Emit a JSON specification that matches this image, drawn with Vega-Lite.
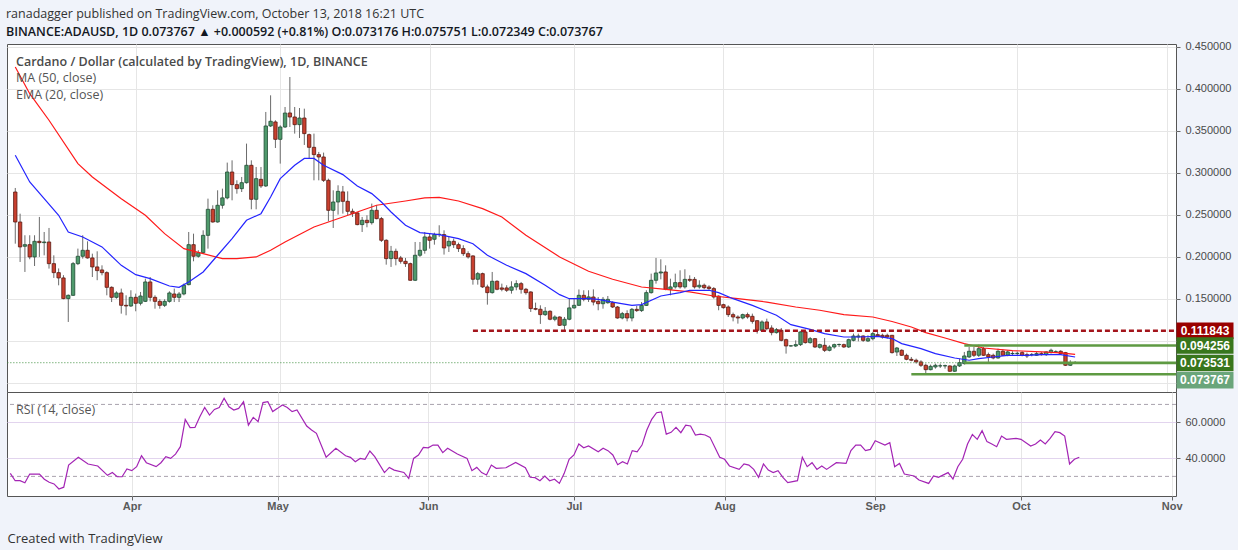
{
  "$schema": "https://vega.github.io/schema/vega-lite/v6.json",
  "background": "#f0f3fa",
  "padding": {"left": 6, "top": 8, "right": 4, "bottom": 4},
  "bounds": "flush",
  "spacing": 0,
  "title": {
    "text": "ranadagger published on TradingView.com, October 13, 2018 16:21 UTC",
    "subtitle": "BINANCE:ADAUSD, 1D 0.073767 ▲ +0.000592 (+0.81%) O:0.073176 H:0.075751 L:0.072349 C:0.073767",
    "anchor": "start",
    "offset": 2,
    "font": "Open Sans",
    "fontSize": 12.5,
    "fontWeight": "normal",
    "color": "#333333",
    "subtitleFont": "Open Sans",
    "subtitleFontSize": 12.5,
    "subtitleFontWeight": 600,
    "subtitleColor": "#131722",
    "subtitlePadding": 5
  },
  "datasets": {
    "candles": [
      {"date": "2018-03-07", "open": 0.277, "high": 0.2818, "low": 0.2155, "close": 0.2413},
      {"date": "2018-03-08", "open": 0.2413, "high": 0.2512, "low": 0.1937, "close": 0.2116},
      {"date": "2018-03-09", "open": 0.2124, "high": 0.2255, "low": 0.1818, "close": 0.2143},
      {"date": "2018-03-10", "open": 0.2143, "high": 0.2255, "low": 0.1969, "close": 0.1997},
      {"date": "2018-03-11", "open": 0.1997, "high": 0.2255, "low": 0.1889, "close": 0.2183},
      {"date": "2018-03-12", "open": 0.2183, "high": 0.2473, "low": 0.1997, "close": 0.2167},
      {"date": "2018-03-13", "open": 0.2167, "high": 0.2294, "low": 0.2016, "close": 0.2175},
      {"date": "2018-03-14", "open": 0.2175, "high": 0.2342, "low": 0.1858, "close": 0.1917},
      {"date": "2018-03-15", "open": 0.1917, "high": 0.2016, "low": 0.1747, "close": 0.181},
      {"date": "2018-03-16", "open": 0.181, "high": 0.186, "low": 0.1659, "close": 0.1747},
      {"date": "2018-03-17", "open": 0.1747, "high": 0.178, "low": 0.1493, "close": 0.1501},
      {"date": "2018-03-18", "open": 0.1501, "high": 0.155, "low": 0.1223, "close": 0.154},
      {"date": "2018-03-19", "open": 0.154, "high": 0.1937, "low": 0.1532, "close": 0.1917},
      {"date": "2018-03-20", "open": 0.1917, "high": 0.2096, "low": 0.19, "close": 0.2005},
      {"date": "2018-03-21", "open": 0.2005, "high": 0.2255, "low": 0.1977, "close": 0.2076},
      {"date": "2018-03-22", "open": 0.2076, "high": 0.2183, "low": 0.1977, "close": 0.1985},
      {"date": "2018-03-23", "open": 0.1985, "high": 0.2036, "low": 0.1758, "close": 0.1878},
      {"date": "2018-03-24", "open": 0.1878, "high": 0.2064, "low": 0.172, "close": 0.1834},
      {"date": "2018-03-25", "open": 0.1842, "high": 0.1897, "low": 0.1778, "close": 0.181},
      {"date": "2018-03-26", "open": 0.181, "high": 0.1826, "low": 0.154, "close": 0.1635},
      {"date": "2018-03-27", "open": 0.1635, "high": 0.1647, "low": 0.146, "close": 0.1516},
      {"date": "2018-03-28", "open": 0.1516, "high": 0.1588, "low": 0.15, "close": 0.1568},
      {"date": "2018-03-29", "open": 0.1568, "high": 0.162, "low": 0.1322, "close": 0.1421},
      {"date": "2018-03-30", "open": 0.1421, "high": 0.154, "low": 0.1302, "close": 0.1413},
      {"date": "2018-03-31", "open": 0.1413, "high": 0.16, "low": 0.1401, "close": 0.1516},
      {"date": "2018-04-01", "open": 0.1516, "high": 0.156, "low": 0.135, "close": 0.1445},
      {"date": "2018-04-02", "open": 0.1445, "high": 0.158, "low": 0.142, "close": 0.1532},
      {"date": "2018-04-03", "open": 0.1468, "high": 0.1739, "low": 0.146, "close": 0.1699},
      {"date": "2018-04-04", "open": 0.1699, "high": 0.1758, "low": 0.1468, "close": 0.1516},
      {"date": "2018-04-05", "open": 0.1516, "high": 0.154, "low": 0.1381, "close": 0.1468},
      {"date": "2018-04-06", "open": 0.1468, "high": 0.1493, "low": 0.1381, "close": 0.1421},
      {"date": "2018-04-07", "open": 0.1421, "high": 0.1493, "low": 0.1401, "close": 0.1468},
      {"date": "2018-04-08", "open": 0.1468, "high": 0.1588, "low": 0.1453, "close": 0.1568},
      {"date": "2018-04-09", "open": 0.1556, "high": 0.162, "low": 0.146, "close": 0.1516},
      {"date": "2018-04-10", "open": 0.1516, "high": 0.158, "low": 0.146, "close": 0.1556},
      {"date": "2018-04-11", "open": 0.1556, "high": 0.168, "low": 0.154, "close": 0.166},
      {"date": "2018-04-12", "open": 0.1667, "high": 0.2294, "low": 0.1659, "close": 0.2143},
      {"date": "2018-04-13", "open": 0.2143, "high": 0.2274, "low": 0.1945, "close": 0.2005},
      {"date": "2018-04-14", "open": 0.2005, "high": 0.2076, "low": 0.1989, "close": 0.2048},
      {"date": "2018-04-15", "open": 0.2048, "high": 0.2314, "low": 0.2036, "close": 0.2254},
      {"date": "2018-04-16", "open": 0.2254, "high": 0.2691, "low": 0.2096, "close": 0.2564},
      {"date": "2018-04-17", "open": 0.2564, "high": 0.2612, "low": 0.2405, "close": 0.2413},
      {"date": "2018-04-18", "open": 0.2413, "high": 0.279, "low": 0.2405, "close": 0.2612},
      {"date": "2018-04-19", "open": 0.2612, "high": 0.281, "low": 0.2572, "close": 0.27},
      {"date": "2018-04-20", "open": 0.27, "high": 0.312, "low": 0.2683, "close": 0.3008},
      {"date": "2018-04-21", "open": 0.3008, "high": 0.3147, "low": 0.2671, "close": 0.2858},
      {"date": "2018-04-22", "open": 0.2858, "high": 0.2909, "low": 0.275, "close": 0.281},
      {"date": "2018-04-23", "open": 0.281, "high": 0.2949, "low": 0.277, "close": 0.2881},
      {"date": "2018-04-24", "open": 0.2881, "high": 0.3346, "low": 0.287, "close": 0.3088},
      {"date": "2018-04-25", "open": 0.3088, "high": 0.3147, "low": 0.2564, "close": 0.2683},
      {"date": "2018-04-26", "open": 0.2683, "high": 0.3068, "low": 0.2564, "close": 0.2929},
      {"date": "2018-04-27", "open": 0.2921, "high": 0.3068, "low": 0.2818, "close": 0.2842},
      {"date": "2018-04-28", "open": 0.2842, "high": 0.3723, "low": 0.283, "close": 0.3556},
      {"date": "2018-04-29", "open": 0.3556, "high": 0.3921, "low": 0.3544, "close": 0.3612},
      {"date": "2018-04-30", "open": 0.3604, "high": 0.3624, "low": 0.3294, "close": 0.3397},
      {"date": "2018-05-01", "open": 0.3397, "high": 0.3564, "low": 0.3108, "close": 0.3544},
      {"date": "2018-05-02", "open": 0.3544, "high": 0.3782, "low": 0.3532, "close": 0.371},
      {"date": "2018-05-03", "open": 0.3711, "high": 0.4139, "low": 0.3544, "close": 0.3663},
      {"date": "2018-05-04", "open": 0.3663, "high": 0.3782, "low": 0.3465, "close": 0.3572},
      {"date": "2018-05-05", "open": 0.3572, "high": 0.377, "low": 0.3413, "close": 0.3651},
      {"date": "2018-05-06", "open": 0.3651, "high": 0.3762, "low": 0.333, "close": 0.3465},
      {"date": "2018-05-07", "open": 0.3453, "high": 0.3465, "low": 0.3167, "close": 0.3302},
      {"date": "2018-05-08", "open": 0.3302, "high": 0.3465, "low": 0.2909, "close": 0.3215},
      {"date": "2018-05-09", "open": 0.3215, "high": 0.3247, "low": 0.2909, "close": 0.3187},
      {"date": "2018-05-10", "open": 0.3187, "high": 0.3239, "low": 0.2889, "close": 0.2909},
      {"date": "2018-05-11", "open": 0.2909, "high": 0.2929, "low": 0.2421, "close": 0.2552},
      {"date": "2018-05-12", "open": 0.2552, "high": 0.279, "low": 0.2342, "close": 0.2651},
      {"date": "2018-05-13", "open": 0.2651, "high": 0.285, "low": 0.2501, "close": 0.2778},
      {"date": "2018-05-14", "open": 0.2771, "high": 0.2842, "low": 0.2513, "close": 0.2659},
      {"date": "2018-05-15", "open": 0.2659, "high": 0.2778, "low": 0.2493, "close": 0.254},
      {"date": "2018-05-16", "open": 0.254, "high": 0.2572, "low": 0.2473, "close": 0.2513},
      {"date": "2018-05-17", "open": 0.2521, "high": 0.2532, "low": 0.2374, "close": 0.2382},
      {"date": "2018-05-18", "open": 0.2382, "high": 0.2473, "low": 0.2294, "close": 0.2433},
      {"date": "2018-05-19", "open": 0.2433, "high": 0.2493, "low": 0.235, "close": 0.2405},
      {"date": "2018-05-20", "open": 0.2405, "high": 0.2632, "low": 0.2382, "close": 0.2552},
      {"date": "2018-05-21", "open": 0.2552, "high": 0.2612, "low": 0.2445, "close": 0.2453},
      {"date": "2018-05-22", "open": 0.2453, "high": 0.2473, "low": 0.2175, "close": 0.2195},
      {"date": "2018-05-23", "open": 0.2195, "high": 0.2207, "low": 0.1905, "close": 0.1977},
      {"date": "2018-05-24", "open": 0.1977, "high": 0.2128, "low": 0.1878, "close": 0.2064},
      {"date": "2018-05-25", "open": 0.2064, "high": 0.2096, "low": 0.1897, "close": 0.1977},
      {"date": "2018-05-26", "open": 0.1985, "high": 0.2009, "low": 0.1917, "close": 0.1945},
      {"date": "2018-05-27", "open": 0.1945, "high": 0.1985, "low": 0.1878, "close": 0.1917},
      {"date": "2018-05-28", "open": 0.1917, "high": 0.1929, "low": 0.1715, "close": 0.1719},
      {"date": "2018-05-29", "open": 0.1719, "high": 0.2175, "low": 0.171, "close": 0.2017},
      {"date": "2018-05-30", "open": 0.2017, "high": 0.2175, "low": 0.1997, "close": 0.2076},
      {"date": "2018-05-31", "open": 0.2076, "high": 0.2294, "low": 0.2036, "close": 0.2235},
      {"date": "2018-06-01", "open": 0.2235, "high": 0.2274, "low": 0.2096, "close": 0.2195},
      {"date": "2018-06-02", "open": 0.2207, "high": 0.2286, "low": 0.2143, "close": 0.2263},
      {"date": "2018-06-03", "open": 0.2263, "high": 0.2374, "low": 0.2235, "close": 0.2267},
      {"date": "2018-06-04", "open": 0.2263, "high": 0.2314, "low": 0.2025, "close": 0.2104},
      {"date": "2018-06-05", "open": 0.2128, "high": 0.2235, "low": 0.2056, "close": 0.2183},
      {"date": "2018-06-06", "open": 0.2183, "high": 0.2215, "low": 0.2104, "close": 0.2143},
      {"date": "2018-06-07", "open": 0.2143, "high": 0.2167, "low": 0.2056, "close": 0.2096},
      {"date": "2018-06-08", "open": 0.2096, "high": 0.2136, "low": 0.2009, "close": 0.2036},
      {"date": "2018-06-09", "open": 0.2036, "high": 0.2064, "low": 0.1977, "close": 0.1997},
      {"date": "2018-06-10", "open": 0.2009, "high": 0.2017, "low": 0.1667, "close": 0.1731},
      {"date": "2018-06-11", "open": 0.1731, "high": 0.1818, "low": 0.1667, "close": 0.1798},
      {"date": "2018-06-12", "open": 0.1798, "high": 0.181, "low": 0.1628, "close": 0.164},
      {"date": "2018-06-13", "open": 0.164, "high": 0.1667, "low": 0.1429, "close": 0.1572},
      {"date": "2018-06-14", "open": 0.1572, "high": 0.1818, "low": 0.156, "close": 0.1707},
      {"date": "2018-06-15", "open": 0.1707, "high": 0.1719, "low": 0.16, "close": 0.1612},
      {"date": "2018-06-16", "open": 0.1628, "high": 0.1679, "low": 0.1588, "close": 0.1612},
      {"date": "2018-06-17", "open": 0.1628, "high": 0.166, "low": 0.158, "close": 0.16},
      {"date": "2018-06-18", "open": 0.16, "high": 0.1707, "low": 0.156, "close": 0.164},
      {"date": "2018-06-19", "open": 0.164, "high": 0.1719, "low": 0.16, "close": 0.1679},
      {"date": "2018-06-20", "open": 0.1679, "high": 0.1699, "low": 0.156, "close": 0.1612},
      {"date": "2018-06-21", "open": 0.1612, "high": 0.1628, "low": 0.1548, "close": 0.1572},
      {"date": "2018-06-22", "open": 0.158, "high": 0.1588, "low": 0.1342, "close": 0.1382},
      {"date": "2018-06-23", "open": 0.1382, "high": 0.1453, "low": 0.1362, "close": 0.1374},
      {"date": "2018-06-24", "open": 0.1374, "high": 0.1421, "low": 0.12, "close": 0.131},
      {"date": "2018-06-25", "open": 0.131, "high": 0.14, "low": 0.1294, "close": 0.135},
      {"date": "2018-06-26", "open": 0.135, "high": 0.1362, "low": 0.1243, "close": 0.1255},
      {"date": "2018-06-27", "open": 0.1255, "high": 0.1302, "low": 0.1231, "close": 0.1282},
      {"date": "2018-06-28", "open": 0.1282, "high": 0.129, "low": 0.1175, "close": 0.1183},
      {"date": "2018-06-29", "open": 0.1183, "high": 0.1282, "low": 0.1124, "close": 0.1255},
      {"date": "2018-06-30", "open": 0.1255, "high": 0.15, "low": 0.1243, "close": 0.139},
      {"date": "2018-07-01", "open": 0.139, "high": 0.1508, "low": 0.1381, "close": 0.1421},
      {"date": "2018-07-02", "open": 0.1421, "high": 0.161, "low": 0.1413, "close": 0.154},
      {"date": "2018-07-03", "open": 0.154, "high": 0.16, "low": 0.1469, "close": 0.1493},
      {"date": "2018-07-04", "open": 0.1493, "high": 0.16, "low": 0.1461, "close": 0.1521},
      {"date": "2018-07-05", "open": 0.152, "high": 0.1611, "low": 0.142, "close": 0.146},
      {"date": "2018-07-06", "open": 0.1468, "high": 0.152, "low": 0.1362, "close": 0.144},
      {"date": "2018-07-07", "open": 0.144, "high": 0.152, "low": 0.1381, "close": 0.1492},
      {"date": "2018-07-08", "open": 0.1452, "high": 0.1532, "low": 0.144, "close": 0.1492},
      {"date": "2018-07-09", "open": 0.1453, "high": 0.1469, "low": 0.1389, "close": 0.1401},
      {"date": "2018-07-10", "open": 0.1401, "high": 0.1413, "low": 0.1262, "close": 0.127},
      {"date": "2018-07-11", "open": 0.127, "high": 0.1342, "low": 0.1254, "close": 0.1322},
      {"date": "2018-07-12", "open": 0.1322, "high": 0.1362, "low": 0.123, "close": 0.127},
      {"date": "2018-07-13", "open": 0.127, "high": 0.1389, "low": 0.123, "close": 0.1373},
      {"date": "2018-07-14", "open": 0.1373, "high": 0.1413, "low": 0.1342, "close": 0.1358},
      {"date": "2018-07-15", "open": 0.1358, "high": 0.146, "low": 0.1342, "close": 0.142},
      {"date": "2018-07-16", "open": 0.142, "high": 0.16, "low": 0.1413, "close": 0.1572},
      {"date": "2018-07-17", "open": 0.1572, "high": 0.1798, "low": 0.156, "close": 0.1719},
      {"date": "2018-07-18", "open": 0.1719, "high": 0.1985, "low": 0.1679, "close": 0.1806},
      {"date": "2018-07-19", "open": 0.1806, "high": 0.1969, "low": 0.173, "close": 0.1818},
      {"date": "2018-07-20", "open": 0.1818, "high": 0.1897, "low": 0.16, "close": 0.1612},
      {"date": "2018-07-21", "open": 0.1612, "high": 0.1738, "low": 0.154, "close": 0.164},
      {"date": "2018-07-22", "open": 0.164, "high": 0.1798, "low": 0.162, "close": 0.1691},
      {"date": "2018-07-23", "open": 0.1691, "high": 0.1838, "low": 0.162, "close": 0.164},
      {"date": "2018-07-24", "open": 0.164, "high": 0.185, "low": 0.162, "close": 0.173},
      {"date": "2018-07-25", "open": 0.173, "high": 0.1778, "low": 0.1699, "close": 0.1719},
      {"date": "2018-07-26", "open": 0.173, "high": 0.1758, "low": 0.162, "close": 0.164},
      {"date": "2018-07-27", "open": 0.164, "high": 0.1719, "low": 0.162, "close": 0.166},
      {"date": "2018-07-28", "open": 0.166, "high": 0.168, "low": 0.1612, "close": 0.1631},
      {"date": "2018-07-29", "open": 0.1639, "high": 0.166, "low": 0.16, "close": 0.162},
      {"date": "2018-07-30", "open": 0.162, "high": 0.1639, "low": 0.15, "close": 0.152},
      {"date": "2018-07-31", "open": 0.153, "high": 0.154, "low": 0.1362, "close": 0.142},
      {"date": "2018-08-01", "open": 0.1429, "high": 0.144, "low": 0.1381, "close": 0.1393},
      {"date": "2018-08-02", "open": 0.1401, "high": 0.142, "low": 0.1282, "close": 0.131},
      {"date": "2018-08-03", "open": 0.131, "high": 0.1334, "low": 0.123, "close": 0.1282},
      {"date": "2018-08-04", "open": 0.1282, "high": 0.1302, "low": 0.1203, "close": 0.127},
      {"date": "2018-08-05", "open": 0.127, "high": 0.1322, "low": 0.1254, "close": 0.131},
      {"date": "2018-08-06", "open": 0.131, "high": 0.1334, "low": 0.1262, "close": 0.1282},
      {"date": "2018-08-07", "open": 0.129, "high": 0.1322, "low": 0.1203, "close": 0.123},
      {"date": "2018-08-08", "open": 0.1238, "high": 0.1242, "low": 0.1084, "close": 0.1123},
      {"date": "2018-08-09", "open": 0.1123, "high": 0.1242, "low": 0.1112, "close": 0.1223},
      {"date": "2018-08-10", "open": 0.1223, "high": 0.1262, "low": 0.1123, "close": 0.1143},
      {"date": "2018-08-11", "open": 0.1151, "high": 0.1183, "low": 0.1064, "close": 0.1096},
      {"date": "2018-08-12", "open": 0.1096, "high": 0.1151, "low": 0.1084, "close": 0.1131},
      {"date": "2018-08-13", "open": 0.1123, "high": 0.1151, "low": 0.0992, "close": 0.1004},
      {"date": "2018-08-14", "open": 0.1012, "high": 0.1024, "low": 0.0846, "close": 0.0937},
      {"date": "2018-08-15", "open": 0.0937, "high": 0.0945, "low": 0.0929, "close": 0.0939},
      {"date": "2018-08-16", "open": 0.0937, "high": 0.1004, "low": 0.0925, "close": 0.0953},
      {"date": "2018-08-17", "open": 0.0953, "high": 0.1112, "low": 0.0937, "close": 0.1104},
      {"date": "2018-08-18", "open": 0.1104, "high": 0.1112, "low": 0.0965, "close": 0.0977},
      {"date": "2018-08-19", "open": 0.0977, "high": 0.1044, "low": 0.0965, "close": 0.1024},
      {"date": "2018-08-20", "open": 0.1024, "high": 0.1032, "low": 0.0913, "close": 0.0925},
      {"date": "2018-08-21", "open": 0.0921, "high": 0.0965, "low": 0.0905, "close": 0.0953},
      {"date": "2018-08-22", "open": 0.0945, "high": 0.1032, "low": 0.0865, "close": 0.0885},
      {"date": "2018-08-23", "open": 0.0885, "high": 0.0945, "low": 0.0873, "close": 0.0925},
      {"date": "2018-08-24", "open": 0.0925, "high": 0.0965, "low": 0.0905, "close": 0.0953},
      {"date": "2018-08-25", "open": 0.0953, "high": 0.0965, "low": 0.0925, "close": 0.0955},
      {"date": "2018-08-26", "open": 0.0953, "high": 0.0965, "low": 0.0913, "close": 0.0925},
      {"date": "2018-08-27", "open": 0.0925, "high": 0.1024, "low": 0.0913, "close": 0.1012},
      {"date": "2018-08-28", "open": 0.1004, "high": 0.1084, "low": 0.0992, "close": 0.1056},
      {"date": "2018-08-29", "open": 0.1044, "high": 0.1084, "low": 0.0992, "close": 0.1056},
      {"date": "2018-08-30", "open": 0.1056, "high": 0.1064, "low": 0.0985, "close": 0.1004},
      {"date": "2018-08-31", "open": 0.0996, "high": 0.1064, "low": 0.0985, "close": 0.1024},
      {"date": "2018-09-01", "open": 0.1024, "high": 0.1104, "low": 0.1004, "close": 0.1084},
      {"date": "2018-09-02", "open": 0.1072, "high": 0.1104, "low": 0.1044, "close": 0.1056},
      {"date": "2018-09-03", "open": 0.1064, "high": 0.1084, "low": 0.1024, "close": 0.1044},
      {"date": "2018-09-04", "open": 0.1064, "high": 0.1084, "low": 0.1024, "close": 0.1044},
      {"date": "2018-09-05", "open": 0.1064, "high": 0.1068, "low": 0.0846, "close": 0.0858},
      {"date": "2018-09-06", "open": 0.0865, "high": 0.0925, "low": 0.0818, "close": 0.0913},
      {"date": "2018-09-07", "open": 0.0886, "high": 0.0897, "low": 0.0818, "close": 0.0826},
      {"date": "2018-09-08", "open": 0.0826, "high": 0.0846, "low": 0.0767, "close": 0.0778},
      {"date": "2018-09-09", "open": 0.0778, "high": 0.0806, "low": 0.0755, "close": 0.0767},
      {"date": "2018-09-10", "open": 0.0767, "high": 0.0786, "low": 0.0727, "close": 0.0747},
      {"date": "2018-09-11", "open": 0.0747, "high": 0.0767, "low": 0.0687, "close": 0.0707},
      {"date": "2018-09-12", "open": 0.0707, "high": 0.0727, "low": 0.0608, "close": 0.0655},
      {"date": "2018-09-13", "open": 0.0655, "high": 0.0715, "low": 0.0647, "close": 0.0695},
      {"date": "2018-09-14", "open": 0.0687, "high": 0.0727, "low": 0.0667, "close": 0.0707},
      {"date": "2018-09-15", "open": 0.0699, "high": 0.0727, "low": 0.0675, "close": 0.0701},
      {"date": "2018-09-16", "open": 0.0699, "high": 0.0715, "low": 0.0667, "close": 0.0703},
      {"date": "2018-09-17", "open": 0.0699, "high": 0.0707, "low": 0.0628, "close": 0.0636},
      {"date": "2018-09-18", "open": 0.0636, "high": 0.0715, "low": 0.0628, "close": 0.0699},
      {"date": "2018-09-19", "open": 0.0699, "high": 0.0786, "low": 0.0687, "close": 0.0739},
      {"date": "2018-09-20", "open": 0.0727, "high": 0.0866, "low": 0.0715, "close": 0.0818},
      {"date": "2018-09-21", "open": 0.0806, "high": 0.0925, "low": 0.0794, "close": 0.0874},
      {"date": "2018-09-22", "open": 0.0874, "high": 0.0925, "low": 0.0806, "close": 0.0826},
      {"date": "2018-09-23", "open": 0.0826, "high": 0.0953, "low": 0.0806, "close": 0.0905},
      {"date": "2018-09-24", "open": 0.0905, "high": 0.0925, "low": 0.0818, "close": 0.0826},
      {"date": "2018-09-25", "open": 0.0834, "high": 0.0858, "low": 0.0747, "close": 0.0806},
      {"date": "2018-09-26", "open": 0.0826, "high": 0.0846, "low": 0.0778, "close": 0.0794},
      {"date": "2018-09-27", "open": 0.0794, "high": 0.0905, "low": 0.0786, "close": 0.0874},
      {"date": "2018-09-28", "open": 0.0874, "high": 0.0897, "low": 0.0818, "close": 0.0826},
      {"date": "2018-09-29", "open": 0.0826, "high": 0.0886, "low": 0.0814, "close": 0.0866},
      {"date": "2018-09-30", "open": 0.0846, "high": 0.0874, "low": 0.0818, "close": 0.0848},
      {"date": "2018-10-01", "open": 0.0846, "high": 0.087, "low": 0.0826, "close": 0.085},
      {"date": "2018-10-02", "open": 0.0858, "high": 0.0874, "low": 0.0814, "close": 0.0826},
      {"date": "2018-10-03", "open": 0.0834, "high": 0.0858, "low": 0.0794, "close": 0.0818},
      {"date": "2018-10-04", "open": 0.0834, "high": 0.0854, "low": 0.0814, "close": 0.0836},
      {"date": "2018-10-05", "open": 0.0826, "high": 0.0866, "low": 0.0818, "close": 0.0846},
      {"date": "2018-10-06", "open": 0.0846, "high": 0.0866, "low": 0.0822, "close": 0.0834},
      {"date": "2018-10-07", "open": 0.0834, "high": 0.0874, "low": 0.0818, "close": 0.0866},
      {"date": "2018-10-08", "open": 0.0858, "high": 0.0905, "low": 0.0846, "close": 0.0886},
      {"date": "2018-10-09", "open": 0.0866, "high": 0.0886, "low": 0.0858, "close": 0.0868},
      {"date": "2018-10-10", "open": 0.0874, "high": 0.0886, "low": 0.0834, "close": 0.0846},
      {"date": "2018-10-11", "open": 0.0858, "high": 0.0866, "low": 0.0699, "close": 0.0707},
      {"date": "2018-10-12", "open": 0.0707, "high": 0.0767, "low": 0.0699, "close": 0.0732},
      {"date": "2018-10-13", "open": 0.073176, "high": 0.075751, "low": 0.072349, "close": 0.073767}
    ],
    "averages": [
      {"date": "2018-03-07", "series": "MA", "value": 0.4258},
      {"date": "2018-03-10", "series": "MA", "value": 0.394},
      {"date": "2018-03-14", "series": "MA", "value": 0.3624},
      {"date": "2018-03-20", "series": "MA", "value": 0.3108},
      {"date": "2018-03-23", "series": "MA", "value": 0.2949},
      {"date": "2018-03-29", "series": "MA", "value": 0.2691},
      {"date": "2018-04-03", "series": "MA", "value": 0.2493},
      {"date": "2018-04-07", "series": "MA", "value": 0.2274},
      {"date": "2018-04-11", "series": "MA", "value": 0.2096},
      {"date": "2018-04-15", "series": "MA", "value": 0.2036},
      {"date": "2018-04-19", "series": "MA", "value": 0.1977},
      {"date": "2018-04-22", "series": "MA", "value": 0.1977},
      {"date": "2018-04-26", "series": "MA", "value": 0.1997},
      {"date": "2018-04-29", "series": "MA", "value": 0.2076},
      {"date": "2018-05-02", "series": "MA", "value": 0.2175},
      {"date": "2018-05-06", "series": "MA", "value": 0.2294},
      {"date": "2018-05-08", "series": "MA", "value": 0.2354},
      {"date": "2018-05-11", "series": "MA", "value": 0.2413},
      {"date": "2018-05-17", "series": "MA", "value": 0.2532},
      {"date": "2018-05-21", "series": "MA", "value": 0.2612},
      {"date": "2018-05-27", "series": "MA", "value": 0.2663},
      {"date": "2018-05-31", "series": "MA", "value": 0.2699},
      {"date": "2018-06-03", "series": "MA", "value": 0.2707},
      {"date": "2018-06-07", "series": "MA", "value": 0.2663},
      {"date": "2018-06-12", "series": "MA", "value": 0.2572},
      {"date": "2018-06-16", "series": "MA", "value": 0.2473},
      {"date": "2018-06-21", "series": "MA", "value": 0.2255},
      {"date": "2018-06-28", "series": "MA", "value": 0.1997},
      {"date": "2018-07-04", "series": "MA", "value": 0.1826},
      {"date": "2018-07-09", "series": "MA", "value": 0.1731},
      {"date": "2018-07-15", "series": "MA", "value": 0.1639},
      {"date": "2018-07-20", "series": "MA", "value": 0.1611},
      {"date": "2018-07-25", "series": "MA", "value": 0.158},
      {"date": "2018-07-30", "series": "MA", "value": 0.1532},
      {"date": "2018-08-04", "series": "MA", "value": 0.15},
      {"date": "2018-08-10", "series": "MA", "value": 0.146},
      {"date": "2018-08-16", "series": "MA", "value": 0.1401},
      {"date": "2018-08-21", "series": "MA", "value": 0.1362},
      {"date": "2018-08-26", "series": "MA", "value": 0.131},
      {"date": "2018-09-01", "series": "MA", "value": 0.1282},
      {"date": "2018-09-05", "series": "MA", "value": 0.1228},
      {"date": "2018-09-09", "series": "MA", "value": 0.1163},
      {"date": "2018-09-12", "series": "MA", "value": 0.1096},
      {"date": "2018-09-16", "series": "MA", "value": 0.1032},
      {"date": "2018-09-20", "series": "MA", "value": 0.0965},
      {"date": "2018-09-24", "series": "MA", "value": 0.0913},
      {"date": "2018-09-30", "series": "MA", "value": 0.0882},
      {"date": "2018-10-06", "series": "MA", "value": 0.0866},
      {"date": "2018-10-10", "series": "MA", "value": 0.0854},
      {"date": "2018-10-13", "series": "MA", "value": 0.0838},
      {"date": "2018-03-07", "series": "EMA", "value": 0.3207},
      {"date": "2018-03-10", "series": "EMA", "value": 0.289},
      {"date": "2018-03-13", "series": "EMA", "value": 0.2691},
      {"date": "2018-03-16", "series": "EMA", "value": 0.2493},
      {"date": "2018-03-18", "series": "EMA", "value": 0.2294},
      {"date": "2018-03-21", "series": "EMA", "value": 0.2235},
      {"date": "2018-03-25", "series": "EMA", "value": 0.2116},
      {"date": "2018-03-29", "series": "EMA", "value": 0.1897},
      {"date": "2018-04-01", "series": "EMA", "value": 0.1786},
      {"date": "2018-04-04", "series": "EMA", "value": 0.1739},
      {"date": "2018-04-08", "series": "EMA", "value": 0.1651},
      {"date": "2018-04-10", "series": "EMA", "value": 0.1635},
      {"date": "2018-04-12", "series": "EMA", "value": 0.1699},
      {"date": "2018-04-15", "series": "EMA", "value": 0.1818},
      {"date": "2018-04-18", "series": "EMA", "value": 0.2017},
      {"date": "2018-04-21", "series": "EMA", "value": 0.2215},
      {"date": "2018-04-24", "series": "EMA", "value": 0.2433},
      {"date": "2018-04-27", "series": "EMA", "value": 0.2512},
      {"date": "2018-04-29", "series": "EMA", "value": 0.2711},
      {"date": "2018-05-01", "series": "EMA", "value": 0.2929},
      {"date": "2018-05-04", "series": "EMA", "value": 0.3088},
      {"date": "2018-05-06", "series": "EMA", "value": 0.317},
      {"date": "2018-05-08", "series": "EMA", "value": 0.317},
      {"date": "2018-05-10", "series": "EMA", "value": 0.3088},
      {"date": "2018-05-14", "series": "EMA", "value": 0.2977},
      {"date": "2018-05-17", "series": "EMA", "value": 0.2842},
      {"date": "2018-05-20", "series": "EMA", "value": 0.2751},
      {"date": "2018-05-22", "series": "EMA", "value": 0.2651},
      {"date": "2018-05-24", "series": "EMA", "value": 0.2532},
      {"date": "2018-05-27", "series": "EMA", "value": 0.2374},
      {"date": "2018-05-30", "series": "EMA", "value": 0.2286},
      {"date": "2018-06-03", "series": "EMA", "value": 0.2263},
      {"date": "2018-06-07", "series": "EMA", "value": 0.2215},
      {"date": "2018-06-10", "series": "EMA", "value": 0.2155},
      {"date": "2018-06-13", "series": "EMA", "value": 0.2017},
      {"date": "2018-06-17", "series": "EMA", "value": 0.1898},
      {"date": "2018-06-21", "series": "EMA", "value": 0.1798},
      {"date": "2018-06-25", "series": "EMA", "value": 0.1659},
      {"date": "2018-06-28", "series": "EMA", "value": 0.1548},
      {"date": "2018-06-30", "series": "EMA", "value": 0.15},
      {"date": "2018-07-04", "series": "EMA", "value": 0.15},
      {"date": "2018-07-06", "series": "EMA", "value": 0.1492},
      {"date": "2018-07-09", "series": "EMA", "value": 0.146},
      {"date": "2018-07-13", "series": "EMA", "value": 0.142},
      {"date": "2018-07-15", "series": "EMA", "value": 0.1429},
      {"date": "2018-07-19", "series": "EMA", "value": 0.1532},
      {"date": "2018-07-23", "series": "EMA", "value": 0.1572},
      {"date": "2018-07-25", "series": "EMA", "value": 0.16},
      {"date": "2018-07-29", "series": "EMA", "value": 0.16},
      {"date": "2018-07-31", "series": "EMA", "value": 0.1572},
      {"date": "2018-08-03", "series": "EMA", "value": 0.15},
      {"date": "2018-08-07", "series": "EMA", "value": 0.142},
      {"date": "2018-08-12", "series": "EMA", "value": 0.1302},
      {"date": "2018-08-15", "series": "EMA", "value": 0.1191},
      {"date": "2018-08-19", "series": "EMA", "value": 0.1135},
      {"date": "2018-08-22", "series": "EMA", "value": 0.1084},
      {"date": "2018-08-26", "series": "EMA", "value": 0.1044},
      {"date": "2018-08-29", "series": "EMA", "value": 0.1044},
      {"date": "2018-09-02", "series": "EMA", "value": 0.1052},
      {"date": "2018-09-05", "series": "EMA", "value": 0.1025},
      {"date": "2018-09-07", "series": "EMA", "value": 0.0965},
      {"date": "2018-09-11", "series": "EMA", "value": 0.0905},
      {"date": "2018-09-14", "series": "EMA", "value": 0.0846},
      {"date": "2018-09-18", "series": "EMA", "value": 0.0794},
      {"date": "2018-09-21", "series": "EMA", "value": 0.0767},
      {"date": "2018-09-23", "series": "EMA", "value": 0.0786},
      {"date": "2018-09-26", "series": "EMA", "value": 0.0806},
      {"date": "2018-09-29", "series": "EMA", "value": 0.0826},
      {"date": "2018-10-03", "series": "EMA", "value": 0.0826},
      {"date": "2018-10-06", "series": "EMA", "value": 0.0834},
      {"date": "2018-10-10", "series": "EMA", "value": 0.0834},
      {"date": "2018-10-13", "series": "EMA", "value": 0.0806}
    ],
    "levels": [
      {"start": "2018-06-10", "end": "2018-11-05", "price": 0.111843, "kind": "resistance"},
      {"start": "2018-09-20", "end": "2018-11-05", "price": 0.094256, "kind": "support"},
      {"start": "2018-09-20", "end": "2018-11-05", "price": 0.073531, "kind": "support"},
      {"start": "2018-09-09", "end": "2018-11-05", "price": 0.06, "kind": "support"},
      {"start": "2018-03-01", "end": "2018-11-05", "price": 0.073767, "kind": "last"}
    ],
    "tags": [
      {"price": 0.111843, "label": "0.111843", "kind": "resistance"},
      {"price": 0.094256, "label": "0.094256", "kind": "support"},
      {"price": 0.073531, "label": "0.073531", "kind": "support"},
      {"price": 0.073767, "label": "0.073767", "kind": "last"}
    ],
    "rsi": [
      {"date": "2018-03-07", "rsi": 31.7}, {"date": "2018-03-08", "rsi": 27.6}, {"date": "2018-03-09", "rsi": 27.6},
      {"date": "2018-03-10", "rsi": 26.5}, {"date": "2018-03-11", "rsi": 31.3}, {"date": "2018-03-13", "rsi": 31.3},
      {"date": "2018-03-14", "rsi": 28.4}, {"date": "2018-03-15", "rsi": 26.7}, {"date": "2018-03-16", "rsi": 25.8},
      {"date": "2018-03-17", "rsi": 23}, {"date": "2018-03-18", "rsi": 24}, {"date": "2018-03-19", "rsi": 36.3},
      {"date": "2018-03-21", "rsi": 40.6}, {"date": "2018-03-23", "rsi": 36.9}, {"date": "2018-03-25", "rsi": 35.8},
      {"date": "2018-03-27", "rsi": 30.6}, {"date": "2018-03-28", "rsi": 32.2}, {"date": "2018-03-29", "rsi": 29.8},
      {"date": "2018-03-30", "rsi": 29.8}, {"date": "2018-03-31", "rsi": 34.1}, {"date": "2018-04-01", "rsi": 33.2},
      {"date": "2018-04-02", "rsi": 35.4}, {"date": "2018-04-03", "rsi": 41.5}, {"date": "2018-04-04", "rsi": 37.6},
      {"date": "2018-04-06", "rsi": 35.4}, {"date": "2018-04-07", "rsi": 37.6}, {"date": "2018-04-08", "rsi": 41},
      {"date": "2018-04-09", "rsi": 40}, {"date": "2018-04-10", "rsi": 42.4}, {"date": "2018-04-11", "rsi": 46.5},
      {"date": "2018-04-12", "rsi": 61.7}, {"date": "2018-04-13", "rsi": 57.1}, {"date": "2018-04-14", "rsi": 57.2},
      {"date": "2018-04-15", "rsi": 63.2}, {"date": "2018-04-16", "rsi": 68.3}, {"date": "2018-04-17", "rsi": 64.1},
      {"date": "2018-04-18", "rsi": 67.2}, {"date": "2018-04-19", "rsi": 68.3}, {"date": "2018-04-20", "rsi": 73.4},
      {"date": "2018-04-21", "rsi": 68.7}, {"date": "2018-04-22", "rsi": 66.9}, {"date": "2018-04-23", "rsi": 67.8},
      {"date": "2018-04-24", "rsi": 71.5}, {"date": "2018-04-25", "rsi": 58.5}, {"date": "2018-04-26", "rsi": 62.8},
      {"date": "2018-04-27", "rsi": 60.4}, {"date": "2018-04-28", "rsi": 71}, {"date": "2018-04-29", "rsi": 71.5},
      {"date": "2018-04-30", "rsi": 66}, {"date": "2018-05-01", "rsi": 67.8}, {"date": "2018-05-02", "rsi": 69.7},
      {"date": "2018-05-03", "rsi": 68.3}, {"date": "2018-05-04", "rsi": 66}, {"date": "2018-05-05", "rsi": 66.9},
      {"date": "2018-05-07", "rsi": 58}, {"date": "2018-05-08", "rsi": 55.8}, {"date": "2018-05-09", "rsi": 53.9},
      {"date": "2018-05-11", "rsi": 40.6}, {"date": "2018-05-13", "rsi": 45.6}, {"date": "2018-05-15", "rsi": 41.5},
      {"date": "2018-05-16", "rsi": 40.6}, {"date": "2018-05-17", "rsi": 38.2}, {"date": "2018-05-18", "rsi": 40},
      {"date": "2018-05-19", "rsi": 39.5}, {"date": "2018-05-20", "rsi": 44.1}, {"date": "2018-05-21", "rsi": 41},
      {"date": "2018-05-23", "rsi": 32.1}, {"date": "2018-05-24", "rsi": 35}, {"date": "2018-05-25", "rsi": 33.5},
      {"date": "2018-05-27", "rsi": 32.2}, {"date": "2018-05-28", "rsi": 28.9}, {"date": "2018-05-29", "rsi": 40},
      {"date": "2018-05-30", "rsi": 41.9}, {"date": "2018-05-31", "rsi": 46.1}, {"date": "2018-06-01", "rsi": 45.9},
      {"date": "2018-06-02", "rsi": 47.4}, {"date": "2018-06-03", "rsi": 47.4}, {"date": "2018-06-04", "rsi": 43.2},
      {"date": "2018-06-05", "rsi": 45.6}, {"date": "2018-06-07", "rsi": 42.4}, {"date": "2018-06-09", "rsi": 40},
      {"date": "2018-06-10", "rsi": 33.2}, {"date": "2018-06-11", "rsi": 35}, {"date": "2018-06-12", "rsi": 32.1},
      {"date": "2018-06-13", "rsi": 30.8}, {"date": "2018-06-14", "rsi": 36.3}, {"date": "2018-06-15", "rsi": 34.5},
      {"date": "2018-06-17", "rsi": 34.8}, {"date": "2018-06-19", "rsi": 37.8}, {"date": "2018-06-21", "rsi": 34.8},
      {"date": "2018-06-22", "rsi": 29.5}, {"date": "2018-06-23", "rsi": 29.3}, {"date": "2018-06-24", "rsi": 27.6},
      {"date": "2018-06-25", "rsi": 30.2}, {"date": "2018-06-26", "rsi": 27.6}, {"date": "2018-06-27", "rsi": 28.4},
      {"date": "2018-06-28", "rsi": 26.1}, {"date": "2018-06-29", "rsi": 31.7}, {"date": "2018-06-30", "rsi": 39.5},
      {"date": "2018-07-01", "rsi": 41.9}, {"date": "2018-07-02", "rsi": 48}, {"date": "2018-07-03", "rsi": 45.9},
      {"date": "2018-07-04", "rsi": 46.9}, {"date": "2018-07-06", "rsi": 43.7}, {"date": "2018-07-07", "rsi": 45.6},
      {"date": "2018-07-08", "rsi": 44.3}, {"date": "2018-07-09", "rsi": 41.9}, {"date": "2018-07-10", "rsi": 36.5},
      {"date": "2018-07-11", "rsi": 38.2}, {"date": "2018-07-12", "rsi": 36.9}, {"date": "2018-07-13", "rsi": 44.3},
      {"date": "2018-07-14", "rsi": 43.7}, {"date": "2018-07-15", "rsi": 47.4}, {"date": "2018-07-16", "rsi": 55.8},
      {"date": "2018-07-17", "rsi": 61.7}, {"date": "2018-07-18", "rsi": 65.4}, {"date": "2018-07-19", "rsi": 65.8},
      {"date": "2018-07-20", "rsi": 53.5}, {"date": "2018-07-21", "rsi": 54.5}, {"date": "2018-07-22", "rsi": 57.2},
      {"date": "2018-07-23", "rsi": 54.3}, {"date": "2018-07-24", "rsi": 58.5}, {"date": "2018-07-25", "rsi": 58},
      {"date": "2018-07-26", "rsi": 53}, {"date": "2018-07-27", "rsi": 53.5}, {"date": "2018-07-28", "rsi": 53},
      {"date": "2018-07-29", "rsi": 51.7}, {"date": "2018-07-31", "rsi": 40.6}, {"date": "2018-08-01", "rsi": 39.5},
      {"date": "2018-08-02", "rsi": 35.8}, {"date": "2018-08-04", "rsi": 33.9}, {"date": "2018-08-05", "rsi": 36.9},
      {"date": "2018-08-06", "rsi": 36.3}, {"date": "2018-08-07", "rsi": 33.9}, {"date": "2018-08-08", "rsi": 29.5},
      {"date": "2018-08-09", "rsi": 36.9}, {"date": "2018-08-10", "rsi": 33.5}, {"date": "2018-08-11", "rsi": 32.1},
      {"date": "2018-08-12", "rsi": 33.2}, {"date": "2018-08-13", "rsi": 29.5}, {"date": "2018-08-14", "rsi": 26.5},
      {"date": "2018-08-16", "rsi": 27.6}, {"date": "2018-08-17", "rsi": 40.6}, {"date": "2018-08-18", "rsi": 35.4},
      {"date": "2018-08-19", "rsi": 37.6}, {"date": "2018-08-20", "rsi": 33.9}, {"date": "2018-08-21", "rsi": 35.8},
      {"date": "2018-08-22", "rsi": 33.9}, {"date": "2018-08-24", "rsi": 37.6}, {"date": "2018-08-26", "rsi": 37.2},
      {"date": "2018-08-27", "rsi": 44.3}, {"date": "2018-08-28", "rsi": 47.4}, {"date": "2018-08-29", "rsi": 47.4},
      {"date": "2018-08-30", "rsi": 44.3}, {"date": "2018-08-31", "rsi": 45}, {"date": "2018-09-01", "rsi": 49.8},
      {"date": "2018-09-03", "rsi": 47.4}, {"date": "2018-09-04", "rsi": 48.7}, {"date": "2018-09-05", "rsi": 35.4},
      {"date": "2018-09-06", "rsi": 37.2}, {"date": "2018-09-07", "rsi": 31.3}, {"date": "2018-09-09", "rsi": 30.2},
      {"date": "2018-09-10", "rsi": 28}, {"date": "2018-09-12", "rsi": 26.1}, {"date": "2018-09-13", "rsi": 30.2},
      {"date": "2018-09-14", "rsi": 29.5}, {"date": "2018-09-16", "rsi": 32.1}, {"date": "2018-09-17", "rsi": 28.5},
      {"date": "2018-09-18", "rsi": 35.4}, {"date": "2018-09-19", "rsi": 39.5}, {"date": "2018-09-20", "rsi": 48},
      {"date": "2018-09-21", "rsi": 53.3}, {"date": "2018-09-22", "rsi": 50.6}, {"date": "2018-09-23", "rsi": 55.4},
      {"date": "2018-09-24", "rsi": 49.3}, {"date": "2018-09-25", "rsi": 48}, {"date": "2018-09-26", "rsi": 46.5},
      {"date": "2018-09-27", "rsi": 52.4}, {"date": "2018-09-28", "rsi": 50.6}, {"date": "2018-09-30", "rsi": 51.1},
      {"date": "2018-10-01", "rsi": 50.6}, {"date": "2018-10-03", "rsi": 46.9}, {"date": "2018-10-04", "rsi": 48},
      {"date": "2018-10-05", "rsi": 50.2}, {"date": "2018-10-06", "rsi": 48}, {"date": "2018-10-07", "rsi": 51.1},
      {"date": "2018-10-08", "rsi": 54.8}, {"date": "2018-10-09", "rsi": 54.3}, {"date": "2018-10-10", "rsi": 52.4},
      {"date": "2018-10-11", "rsi": 36.9}, {"date": "2018-10-12", "rsi": 39.5}, {"date": "2018-10-13", "rsi": 40.6}
    ]
  },
  "vconcat": [
    {
      "width": 1169,
      "height": 348,
      "title": {
        "text": "Cardano / Dollar (calculated by TradingView), 1D, BINANCE",
        "subtitle": ["MA (50, close)", "EMA (20, close)"],
        "anchor": "start",
        "frame": "group",
        "orient": "top",
        "offset": -61,
        "dx": 9,
        "font": "Open Sans",
        "fontSize": 12.5,
        "fontWeight": 600,
        "color": "#4a4a4a",
        "subtitleFont": "Open Sans",
        "subtitleFontSize": 12.5,
        "subtitleColor": "#555555",
        "subtitlePadding": 4,
        "subtitleLineHeight": 17
      },
      "layer": [
        {
          "data": {"name": "candles"},
          "mark": {"type": "rule", "color": "#6b6b6b", "strokeWidth": 1},
          "encoding": {
            "x": {
              "field": "date",
              "type": "temporal",
              "scale": {
                "type": "utc",
                "domain": [
                  {"year": 2018, "month": 3, "date": 6, "hours": 7, "minutes": 40, "utc": true},
                  {"year": 2018, "month": 11, "date": 1, "hours": 21, "minutes": 40, "utc": true}
                ]
              },
              "axis": {
                "values": [
                  {"year": 2018, "month": 4, "date": 1, "utc": true},
                  {"year": 2018, "month": 5, "date": 1, "utc": true},
                  {"year": 2018, "month": 6, "date": 1, "utc": true},
                  {"year": 2018, "month": 7, "date": 1, "utc": true},
                  {"year": 2018, "month": 8, "date": 1, "utc": true},
                  {"year": 2018, "month": 9, "date": 1, "utc": true},
                  {"year": 2018, "month": 10, "date": 1, "utc": true},
                  {"year": 2018, "month": 11, "date": 1, "utc": true}
                ],
                "labels": false,
                "ticks": false,
                "domain": false,
                "grid": true,
                "gridColor": "#e6e6e6",
                "title": null
              }
            },
            "y": {
              "field": "low",
              "type": "quantitative",
              "scale": {"domain": [0.0389, 0.4532], "nice": false, "zero": false},
              "axis": {
                "orient": "right",
                "values": [0.05, 0.1, 0.15, 0.2, 0.25, 0.3, 0.35, 0.4, 0.45],
                "labelExpr": "datum.value < 0.12 ? '' : format(datum.value, '.6f')",
                "grid": true,
                "gridColor": "#e6e6e6",
                "domain": false,
                "tickSize": 4,
                "tickColor": "#666666",
                "labelPadding": 5,
                "labelFont": "Liberation Sans",
                "labelFontSize": 11,
                "labelColor": "#4a4a4a",
                "title": null
              }
            },
            "y2": {"field": "high"}
          }
        },
        {
          "data": {"name": "candles"},
          "mark": {"type": "bar", "width": 3.4, "strokeWidth": 0.8},
          "encoding": {
            "x": {"field": "date", "type": "temporal"},
            "y": {"field": "open", "type": "quantitative"},
            "y2": {"field": "close"},
            "fill": {"condition": {"test": "datum.close >= datum.open", "value": "#4f9a6c"}, "value": "#c9402f"},
            "stroke": {"condition": {"test": "datum.close >= datum.open", "value": "#1f4d33"}, "value": "#5b1a13"}
          }
        },
        {
          "data": {"name": "averages"},
          "mark": {"type": "line", "strokeWidth": 1.2, "clip": true},
          "encoding": {
            "x": {"field": "date", "type": "temporal"},
            "y": {"field": "value", "type": "quantitative"},
            "color": {
              "field": "series",
              "type": "nominal",
              "scale": {"domain": ["MA", "EMA"], "range": ["#ff1a1a", "#2424ff"]},
              "legend": null
            }
          }
        },
        {
          "data": {"name": "levels"},
          "transform": [{"filter": "datum.kind == 'last'"}],
          "mark": {"type": "rule", "color": "#3f8f3f", "strokeWidth": 1, "strokeDash": [1, 2], "clip": true},
          "encoding": {
            "x": {"field": "start", "type": "temporal"},
            "x2": {"field": "end"},
            "y": {"field": "price", "type": "quantitative"}
          }
        },
        {
          "data": {"name": "levels"},
          "transform": [{"filter": "datum.kind == 'support'"}],
          "mark": {"type": "rule", "color": "#5e9a42", "strokeWidth": 2.6, "clip": true},
          "encoding": {
            "x": {"field": "start", "type": "temporal"},
            "x2": {"field": "end"},
            "y": {"field": "price", "type": "quantitative"}
          }
        },
        {
          "data": {"name": "levels"},
          "transform": [{"filter": "datum.kind == 'resistance'"}],
          "mark": {"type": "rule", "color": "#a3141b", "strokeWidth": 2.6, "strokeDash": [5, 3], "clip": true},
          "encoding": {
            "x": {"field": "start", "type": "temporal"},
            "x2": {"field": "end"},
            "y": {"field": "price", "type": "quantitative"}
          }
        },
        {
          "data": {"name": "tags"},
          "transform": [{"filter": "datum.kind != 'last'"}],
          "mark": {
            "type": "point",
            "shape": "M-1,-0.29L1,-0.29L1,0.29L-1,0.29Z",
            "size": 3249,
            "filled": true,
            "opacity": 1,
            "strokeWidth": 0,
            "xOffset": 29,
            "clip": false
          },
          "encoding": {
            "x": {"value": "width"},
            "y": {"field": "price", "type": "quantitative"},
            "fill": {
              "field": "kind",
              "type": "nominal",
              "scale": {"domain": ["resistance", "support", "last"], "range": ["#990000", "#38761d", "#6aa57a"]},
              "legend": null
            }
          }
        },
        {
          "data": {"name": "tags"},
          "transform": [{"filter": "datum.kind == 'last'"}],
          "mark": {
            "type": "point",
            "shape": "M-1,-0.29L1,-0.29L1,0.29L-1,0.29Z",
            "size": 3249,
            "filled": true,
            "opacity": 1,
            "strokeWidth": 0,
            "xOffset": 29,
            "yOffset": 17.5,
            "clip": false
          },
          "encoding": {
            "x": {"value": "width"},
            "y": {"field": "price", "type": "quantitative"},
            "fill": {"field": "kind", "type": "nominal", "legend": null}
          }
        },
        {
          "data": {"name": "tags"},
          "transform": [{"filter": "datum.kind != 'last'"}],
          "mark": {
            "type": "text",
            "color": "#ffffff",
            "font": "Liberation Sans",
            "fontSize": 12,
            "fontWeight": "bold",
            "align": "center",
            "baseline": "middle",
            "xOffset": 29,
            "clip": false
          },
          "encoding": {
            "x": {"value": "width"},
            "y": {"field": "price", "type": "quantitative"},
            "text": {"field": "label", "type": "nominal"}
          }
        },
        {
          "data": {"name": "tags"},
          "transform": [{"filter": "datum.kind == 'last'"}],
          "mark": {
            "type": "text",
            "color": "#ffffff",
            "font": "Liberation Sans",
            "fontSize": 12,
            "fontWeight": "bold",
            "align": "center",
            "baseline": "middle",
            "xOffset": 29,
            "yOffset": 17.5,
            "clip": false
          },
          "encoding": {
            "x": {"value": "width"},
            "y": {"field": "price", "type": "quantitative"},
            "text": {"field": "label", "type": "nominal"}
          }
        }
      ]
    },
    {
      "width": 1169,
      "height": 104,
      "title": {
        "text": "RSI (14, close)",
        "anchor": "start",
        "frame": "group",
        "orient": "top",
        "offset": -24,
        "dx": 9,
        "font": "Open Sans",
        "fontSize": 12.5,
        "fontWeight": "normal",
        "color": "#555555"
      },
      "layer": [
        {
          "mark": {"type": "rect", "color": "#9915ff", "opacity": 0.1},
          "encoding": {
            "y": {"datum": 70, "type": "quantitative"},
            "y2": {"datum": 30}
          }
        },
        {
          "data": {"values": [{"level": 70}, {"level": 30}]},
          "mark": {"type": "rule", "color": "#a9a2ad", "strokeWidth": 1, "strokeDash": [4, 3]},
          "encoding": {
            "y": {"field": "level", "type": "quantitative"}
          }
        },
        {
          "data": {"name": "rsi"},
          "mark": {"type": "line", "color": "#a324b4", "strokeWidth": 1.2},
          "encoding": {
            "x": {
              "field": "date",
              "type": "temporal",
              "scale": {
                "type": "utc",
                "domain": [
                  {"year": 2018, "month": 3, "date": 6, "hours": 7, "minutes": 40, "utc": true},
                  {"year": 2018, "month": 11, "date": 1, "hours": 21, "minutes": 40, "utc": true}
                ]
              },
              "axis": {
                "values": [
                  {"year": 2018, "month": 4, "date": 1, "utc": true},
                  {"year": 2018, "month": 5, "date": 1, "utc": true},
                  {"year": 2018, "month": 6, "date": 1, "utc": true},
                  {"year": 2018, "month": 7, "date": 1, "utc": true},
                  {"year": 2018, "month": 8, "date": 1, "utc": true},
                  {"year": 2018, "month": 9, "date": 1, "utc": true},
                  {"year": 2018, "month": 10, "date": 1, "utc": true},
                  {"year": 2018, "month": 11, "date": 1, "utc": true}
                ],
                "format": "%b",
                "grid": true,
                "gridColor": "#e6e6e6",
                "domain": false,
                "tickSize": 4,
                "tickColor": "#666666",
                "labelPadding": 0,
                "labelFont": "Liberation Sans",
                "labelFontSize": 11,
                "labelFontWeight": "bold",
                "labelColor": "#5a5a5a",
                "title": "Created with TradingView",
                "titleFont": "Open Sans",
                "titleFontSize": 13,
                "titleFontWeight": "normal",
                "titleColor": "#333333",
                "titleAnchor": "start",
                "titleAlign": "left",
                "titleBaseline": "middle",
                "titleX": 0,
                "titleY": 42
              }
            },
            "y": {
              "field": "rsi",
              "type": "quantitative",
              "scale": {"domain": [19.1, 76.9], "nice": false, "zero": false},
              "axis": {
                "orient": "right",
                "values": [40, 60],
                "format": ".4f",
                "grid": true,
                "gridColor": "#e2d4ee",
                "domain": false,
                "tickSize": 4,
                "tickColor": "#666666",
                "labelPadding": 5,
                "labelFont": "Liberation Sans",
                "labelFontSize": 11,
                "labelColor": "#4a4a4a",
                "title": null
              }
            }
          }
        }
      ]
    }
  ],
  "config": {
    "view": {"stroke": "#555555", "strokeWidth": 1, "fill": "#ffffff"}
  }
}
